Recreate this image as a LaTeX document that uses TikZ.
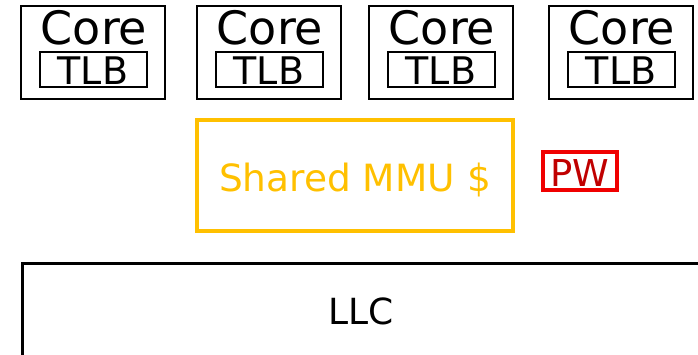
\documentclass[tikz,border=0pt]{standalone}
\usepackage{fontspec}
\usepackage{graphicx}
\setmainfont{DejaVu Sans}
\definecolor{mmuorange}{HTML}{FFC000}
\definecolor{pwred}{HTML}{F00000}
\definecolor{pwtext}{HTML}{C00000}
\tikzset{
  corebox/.style={draw=black, line width=2pt, inner sep=0pt, minimum width=144pt, minimum height=93pt},
  tlbbox/.style={draw=black, line width=2pt, inner sep=0pt, minimum width=107pt, minimum height=35pt},
  mmubox/.style={draw=mmuorange, line width=3.5pt, inner sep=0pt, minimum width=316pt, minimum height=111pt},
  pwbox/.style={draw=pwred, line width=3.5pt, inner sep=0pt, minimum width=74pt, minimum height=38pt},
  llcbox/.style={draw=black, line width=2.5pt, inner sep=0pt, minimum width=700pt, minimum height=120pt, anchor=north west},
  lbl/.style={inner sep=0pt, anchor=base},
}
\newcommand{\coretxt}{\fontsize{46}{46}\selectfont Core}
\newcommand{\tlbtxt}{\fontsize{38}{38}\selectfont TLB}
\begin{document}
\begin{tikzpicture}[x=1pt, y=-1pt]
  \useasboundingbox (0,0) rectangle (698,354);
  \clip (0,0) rectangle (698,354);
  % four cores, each with its own TLB
  \foreach \i/\cx in {1/93, 2/269, 3/441, 4/621} {
    \node[corebox] (core\i) at (\cx,52.5) {};
    \node[tlbbox] (tlb\i) at (\cx,69.5) {};
    \node[lbl] (coretext\i) at (\cx+1,44) {\coretxt};
    \node[lbl] (tlbtext\i) at (\cx,84) {\tlbtxt};
  }
  % shared MMU cache
  \node[mmubox] (mmu) at (355,175.5) {};
  \node[lbl, text=mmuorange] (mmutext) at (355,191) {\fontsize{37.5}{37.5}\selectfont Shared MMU \$};
  % page walker
  \node[pwbox] (pw) at (580,171) {};
  \node[lbl, text=pwtext] (pwtext) at (580,186) {\fontsize{37}{37}\selectfont PW};
  % last-level cache
  \node[llcbox] (llc) at (21,262) {};
  \node[lbl] (llctext) at (361,324) {\fontsize{36}{36}\selectfont LLC};
\end{tikzpicture}
\end{document}
